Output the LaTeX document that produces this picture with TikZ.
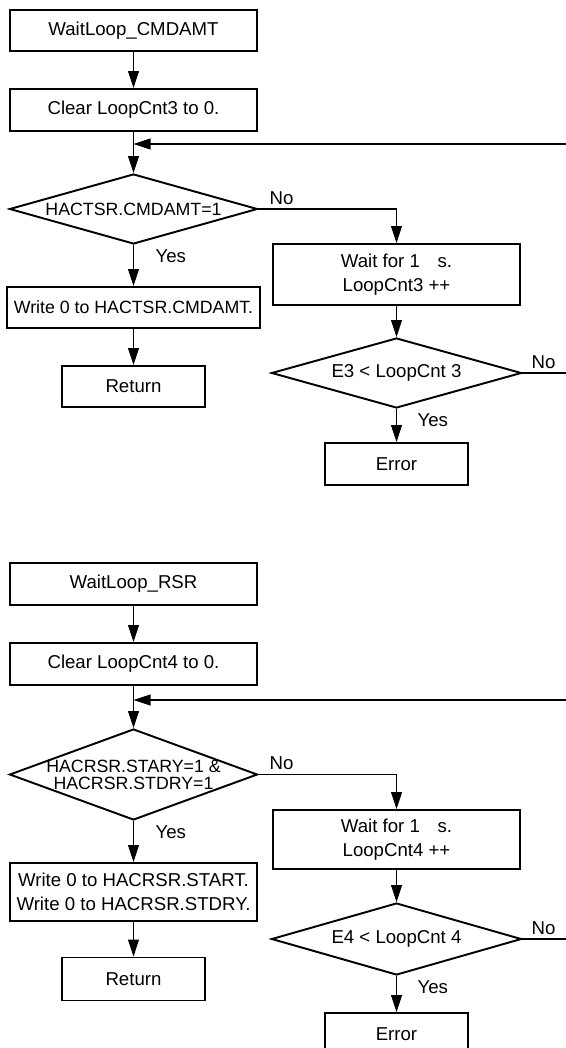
\documentclass[tikz,border=0pt]{standalone}
\usepackage{fontspec}
\setmainfont{Liberation Sans}
\usetikzlibrary{arrows.meta,positioning,calc,shapes.geometric}
\tikzset{
  box/.style    ={draw,line width=1.1pt,minimum width=4.94cm,minimum height=0.82cm,inner sep=0pt,align=center},
  endbox/.style ={box,minimum width=2.86cm},
  dec/.style    ={diamond,aspect=3.5,draw,line width=1.1pt,inner sep=0pt,minimum width=4.96cm,minimum height=1.4cm},
  flow/.style   ={-{Triangle[length=3.4mm,width=2.2mm]},line width=0.6pt},
  lbl/.style    ={inner sep=1pt},
  tight/.style  ={font=\fontsize{10.1}{9.7}\selectfont,align=center,inner sep=0pt},
}

\begin{document}
\begin{tikzpicture}[font=\fontsize{10.6}{13.5}\selectfont]
  \useasboundingbox (0,0) rectangle (11.32,-20.96);
  % top loop: wait for CMDAMT
  \node[box] (start3) at (2.67,-0.61) {WaitLoop\_CMDAMT};
  \node[box,minimum height=0.84cm] (clear3) at (2.67,-2.20) {Clear LoopCnt3 to 0.};
  \coordinate (fb3) at (11.32,-2.88);
  \node[dec] (dec3) at (2.67,-4.18) {};
  \node[tight] (q3) at (dec3) {HACTSR.CMDAMT=1};
  \node[box,minimum height=1.22cm] (wait3) at (7.93,-5.49) {Wait for 1\hspace{0.95em}s.\\LoopCnt3 ++};
  \node[box,minimum width=5.06cm,font=\fontsize{10.1}{13}\selectfont] (write3) at (2.67,-6.15) {Write 0 to HACTSR.CMDAMT.};
  \node[endbox] (ret3) at (2.67,-7.73) {Return};
  \node[dec,minimum width=5.0cm] (chk3) at (7.93,-7.46) {E3 < LoopCnt 3};
  \coordinate (out3) at (11.32,-7.46);
  \node[endbox,minimum height=0.84cm] (err3) at (7.93,-9.28) {Error};
  \node[lbl,anchor=south west] (no3) at ($(dec3.east)+(0.18,0.05)$) {No};
  \node[lbl,anchor=north west] (yes3) at ($(dec3.south)+(0.4,-0.06)$) {Yes};
  \node[lbl,anchor=south west] (nochk3) at ($(chk3.east)+(0.14,0.05)$) {No};
  \node[lbl,anchor=north west] (yeschk3) at ($(chk3.south)+(0.38,-0.06)$) {Yes};
  \draw[flow] (start3) -- (clear3);
  \draw[flow] (clear3) -- (dec3);
  \draw[flow] (fb3) -- (clear3.south |- fb3);
  \draw[flow] (dec3.east) -| (wait3.north);
  \draw[flow] (dec3) -- (write3);
  \draw[flow] (write3) -- (ret3);
  \draw[flow] (wait3) -- (chk3);
  \draw[flow] (chk3) -- (err3);
  \draw[line width=0.6pt] (chk3.east) -- (out3);
  % bottom loop: wait for STARY/STDRY
  \begin{scope}[yshift=-11.06cm]
    \node[box,minimum height=0.84cm] (start4) at (2.67,-0.62) {WaitLoop\_RSR};
    \node[box,minimum height=0.84cm] (clear4) at (2.67,-2.22) {Clear LoopCnt4 to 0.};
    \coordinate (fb4) at (11.32,-2.94);
    \node[dec,minimum height=1.82cm] (dec4) at (2.67,-4.43) {};
    \node[tight] (q4) at (dec4) {HACRSR.STARY=1 \&\\HACRSR.STDRY=1};
    \node[box,minimum height=1.18cm] (wait4) at (7.93,-5.73) {Wait for 1\hspace{0.95em}s.\\LoopCnt4 ++};
    \node[box,minimum height=1.16cm] (write4) at (2.67,-6.78) {Write 0 to HACRSR.START.\\Write 0 to HACRSR.STDRY.};
    \node[endbox,minimum height=0.86cm] (ret4) at (2.67,-8.52) {Return};
    \node[dec,minimum width=5.0cm,minimum height=1.44cm] (chk4) at (7.93,-7.72) {E4 < LoopCnt 4};
    \coordinate (out4) at (11.32,-7.72);
    \node[endbox,minimum height=0.84cm] (err4) at (7.93,-9.62) {Error};
    \node[lbl,anchor=south west] (no4) at ($(dec4.east)+(0.18,0.05)$) {No};
    \node[lbl,anchor=north west] (yes4) at ($(dec4.south)+(0.4,-0.06)$) {Yes};
    \node[lbl,anchor=south west] (nochk4) at ($(chk4.east)+(0.14,0.05)$) {No};
    \node[lbl,anchor=north west] (yeschk4) at ($(chk4.south)+(0.38,-0.06)$) {Yes};
    \draw[flow] (start4) -- (clear4);
    \draw[flow] (clear4) -- (dec4);
    \draw[flow] (fb4) -- (clear4.south |- fb4);
    \draw[flow] (dec4.east) -| (wait4.north);
    \draw[flow] (dec4) -- (write4);
    \draw[flow] (write4) -- (ret4);
    \draw[flow] (wait4) -- (chk4);
    \draw[flow] (chk4) -- (err4);
    \draw[line width=0.6pt] (chk4.east) -- (out4);
  \end{scope}
\end{tikzpicture}
\end{document}
